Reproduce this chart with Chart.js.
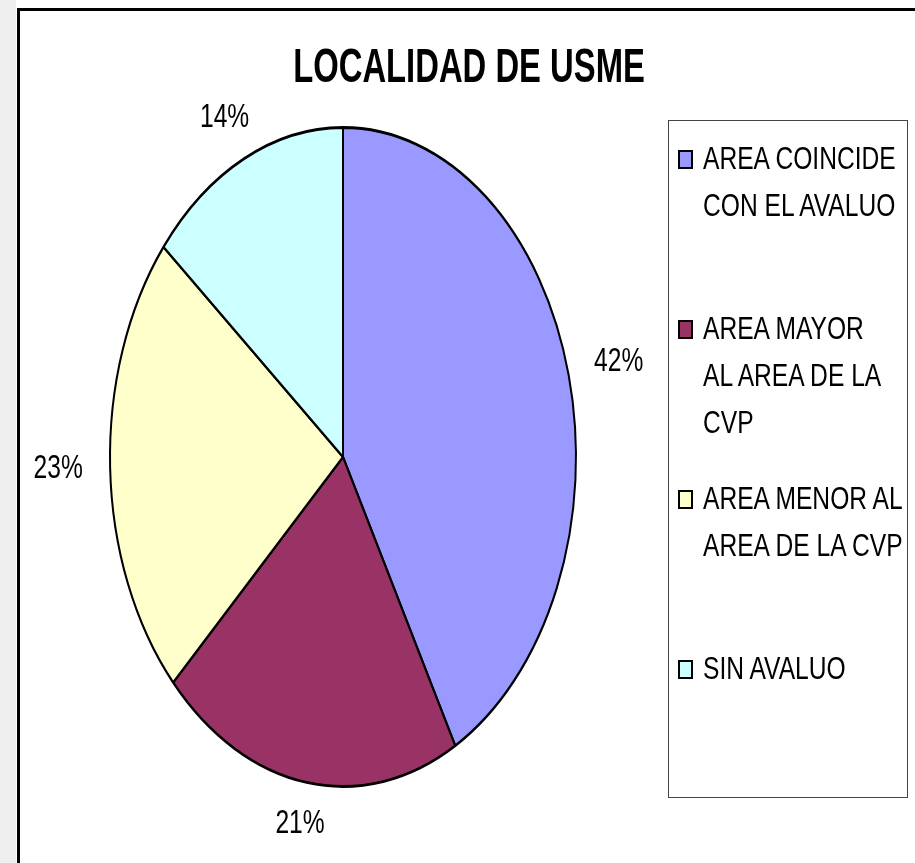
<!DOCTYPE html>
<html>
<head>
<meta charset="utf-8">
<title>Localidad de Usme</title>
<script src="https://cdn.jsdelivr.net/npm/chart.js@4.4.0/dist/chart.umd.min.js"></script>
<style>
  body { margin: 0; width: 915px; height: 863px; overflow: hidden; background: #fff; position: relative;
         font-family: 'Liberation Sans', Arial, sans-serif; }
  #franja { position: absolute; left: 0; top: 0; width: 16px; height: 863px; background: #efefef; }
  #marco { position: absolute; left: 17px; top: 8px; width: 1000px; height: 1000px; border: 3px solid #000; }
  #grafico { position: absolute; left: 0; top: 0; }
  #leyenda { position: absolute; left: 668px; top: 120px; width: 240px; height: 678px; border: 1px solid #444;
             box-sizing: border-box; padding-top: 13px; }
  .item { height: 170px; position: relative; padding-left: 34px; font-size: 30px; line-height: 47px; color: #000; }
  .item div { white-space: nowrap; transform: scale(0.82, 1.06); transform-origin: 0 50%; }
  .caja { position: absolute; left: 9px; top: 16px; width: 11px; height: 15px; border: 2px solid #000; }
</style>
</head>
<body>
<div id="franja"></div>
<div id="marco"></div>
<canvas id="grafico" width="915" height="863"></canvas>
<div id="leyenda"></div>

<script>
// datos del grafico
const TITULO = 'LOCALIDAD DE USME'
const CATEGORIAS = [
    ['AREA COINCIDE', 'CON EL AVALUO'],
    ['AREA MAYOR', 'AL AREA DE LA', 'CVP'],
    ['AREA MENOR AL', 'AREA DE LA CVP'],
    ['SIN AVALUO']
]
const PORCENTAJES = [42, 21, 23, 14]
const COLORES = ['#9999FF', '#993366', '#FFFFCC', '#CCFFFF']

// la torta original esta estirada en vertical
const ESTIRAR = 1.414
// no hay Arial Narrow, se angosta la letra a mano
const ANGOSTO = 0.82
const FUENTE = '"Liberation Sans", Arial, sans-serif'

function texto(ctx, t, x, y, k) {
    ctx.save()
    ctx.translate(x, y)
    ctx.scale(ANGOSTO, k)
    ctx.fillText(t, 0, 0)
    ctx.restore()
}

// estira la torta como elipse
const elipse = {
    id: 'elipse',
    beforeDatasetsDraw(chart) {
        const arco = chart.getDatasetMeta(0).data[0]
        const ctx = chart.ctx
        ctx.save()
        ctx.translate(arco.x, arco.y)
        ctx.scale(1, ESTIRAR)
        ctx.translate(-arco.x, -arco.y)
    },
    afterDatasetsDraw(chart) {
        chart.ctx.restore()
    }
}

// porcentajes y titulo
const etiquetas = {
    id: 'etiquetas',
    afterDraw(chart) {
        const ctx = chart.ctx
        const arcos = chart.getDatasetMeta(0).data
        const total = PORCENTAJES.reduce((a, b) => a + b, 0)
        ctx.save()
        ctx.fillStyle = '#000'
        ctx.textAlign = 'center'
        ctx.textBaseline = 'middle'
        ctx.font = '30px ' + FUENTE
        arcos.forEach((arco, i) => {
            const medio = (arco.startAngle + arco.endAngle) / 2
            const c = Math.cos(medio)
            const s = Math.sin(medio)
            const d = 40 + 12 * Math.abs(c)
            const x = arco.x + (arco.outerRadius + d) * c
            const y = arco.y + (arco.outerRadius * ESTIRAR + d) * s
            texto(ctx, Math.round(PORCENTAJES[i] / total * 100) + '%', x, y, 1.12)
        })
        ctx.font = 'bold 40px ' + FUENTE
        ctx.textBaseline = 'alphabetic'
        texto(ctx, TITULO, 469, 82, 1.19)
        ctx.restore()
    }
}

let grafico = new Chart(document.getElementById('grafico'), {
    type: 'pie',
    data: {
        labels: CATEGORIAS,
        datasets: [{
            data: PORCENTAJES,
            backgroundColor: COLORES,
            borderColor: '#000',
            borderWidth: 2,
            hoverOffset: 0,
            clip: false
        }]
    },
    options: {
        responsive: false,
        animation: false,
        events: [],
        layout: {
            padding: { left: 109, right: 338, top: 223, bottom: 172 }
        },
        plugins: {
            legend: { display: false },
            tooltip: { enabled: false }
        }
    },
    plugins: [elipse, etiquetas]
})

// leyenda con caja, como en el original
const leyenda = document.getElementById('leyenda')
CATEGORIAS.forEach((lineas, i) => {
    const item = document.createElement('div')
    item.className = 'item'
    const caja = document.createElement('span')
    caja.className = 'caja'
    caja.style.background = COLORES[i]
    item.appendChild(caja)
    lineas.forEach(l => {
        const linea = document.createElement('div')
        linea.textContent = l
        item.appendChild(linea)
    })
    leyenda.appendChild(item)
})
</script>
</body>
</html>
